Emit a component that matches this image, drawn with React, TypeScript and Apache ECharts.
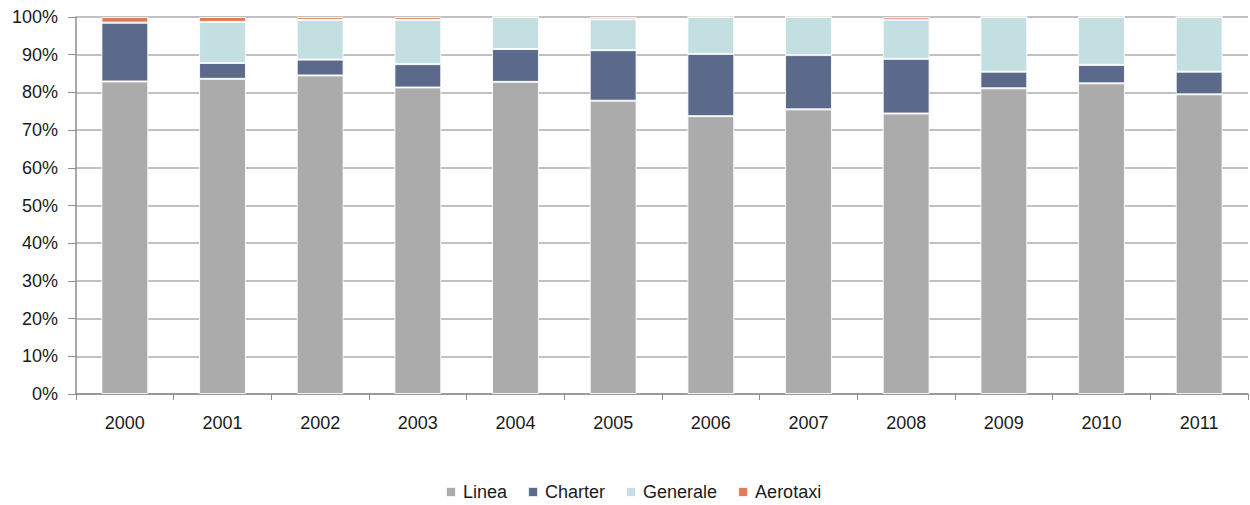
import React, { useEffect, useRef } from "react";
import * as echarts from "echarts";

const years = ["2000", "2001", "2002", "2003", "2004", "2005", "2006", "2007", "2008", "2009", "2010", "2011"];
const linea = [82.9, 83.6, 84.5, 81.3, 82.8, 77.8, 73.7, 75.5, 74.4, 81.1, 82.4, 79.5];
const charter = [15.6, 4.2, 4.2, 6.2, 8.7, 13.4, 16.5, 14.4, 14.5, 4.4, 4.9, 6.0];
const generale = [0.0, 10.9, 10.55, 11.75, 8.5, 8.2, 9.8, 10.1, 10.4, 14.5, 12.7, 14.5];
const aerotaxi = [1.5, 1.3, 0.75, 0.75, 0.0, 0.6, 0.0, 0.0, 0.7, 0.0, 0.0, 0.0];

const FONT = "'Liberation Sans', Arial, sans-serif";

export default function App() {
  const ref = useRef<HTMLDivElement>(null);

  useEffect(() => {
    document.body.style.margin = "0";
    if (!ref.current) return;
    const chart = echarts.init(ref.current, null, { renderer: "svg" });
    const mk = (name: string, data: number[], color: string) => ({
      name,
      type: "bar",
      stack: "total",
      data,
      barWidth: "48%",
      itemStyle: { color, borderColor: "rgba(255,255,255,0.85)", borderWidth: 1 },
    });
    chart.setOption({
      animation: false,
      textStyle: { fontFamily: FONT },
      grid: { left: 76, right: 2, top: 17, bottom: 111, containLabel: false },
      legend: {
        bottom: -1,
        left: 440,
        itemWidth: 10,
        itemHeight: 10,
        itemGap: 20,
        icon: "rect",
        textStyle: { fontFamily: FONT, fontSize: 18, color: "#1a1a1a", padding: [0, 0, 0, 2] },
        data: ["Linea", "Charter", "Generale", "Aerotaxi"],
      },
      xAxis: {
        type: "category",
        data: years,
        axisLine: { lineStyle: { color: "#8c8c8c", width: 1.5 } },
        axisTick: { show: true, length: 6, lineStyle: { color: "#8c8c8c" } },
        axisLabel: { fontFamily: FONT, fontSize: 18, color: "#1a1a1a", margin: 20 },
      },
      yAxis: {
        type: "value",
        min: 0,
        max: 100,
        interval: 10,
        axisLine: { show: true, lineStyle: { color: "#8c8c8c", width: 1.5 } },
        axisTick: { show: true, length: 8, lineStyle: { color: "#8c8c8c" } },
        splitLine: { lineStyle: { color: "#adadad", width: 1.5 } },
        axisLabel: { fontFamily: FONT, fontSize: 18, color: "#1a1a1a", margin: 18, formatter: "{value}%" },
      },
      series: [
        mk("Linea", linea, "#ababab"),
        mk("Charter", charter, "#5b6a8b"),
        mk("Generale", generale, "#c4dfe2"),
        mk("Aerotaxi", aerotaxi, "#e07b5a"),
      ],
    });
    return () => chart.dispose();
  }, []);

  return <div ref={ref} style={{ width: 1250, height: 505 }} />;
}
